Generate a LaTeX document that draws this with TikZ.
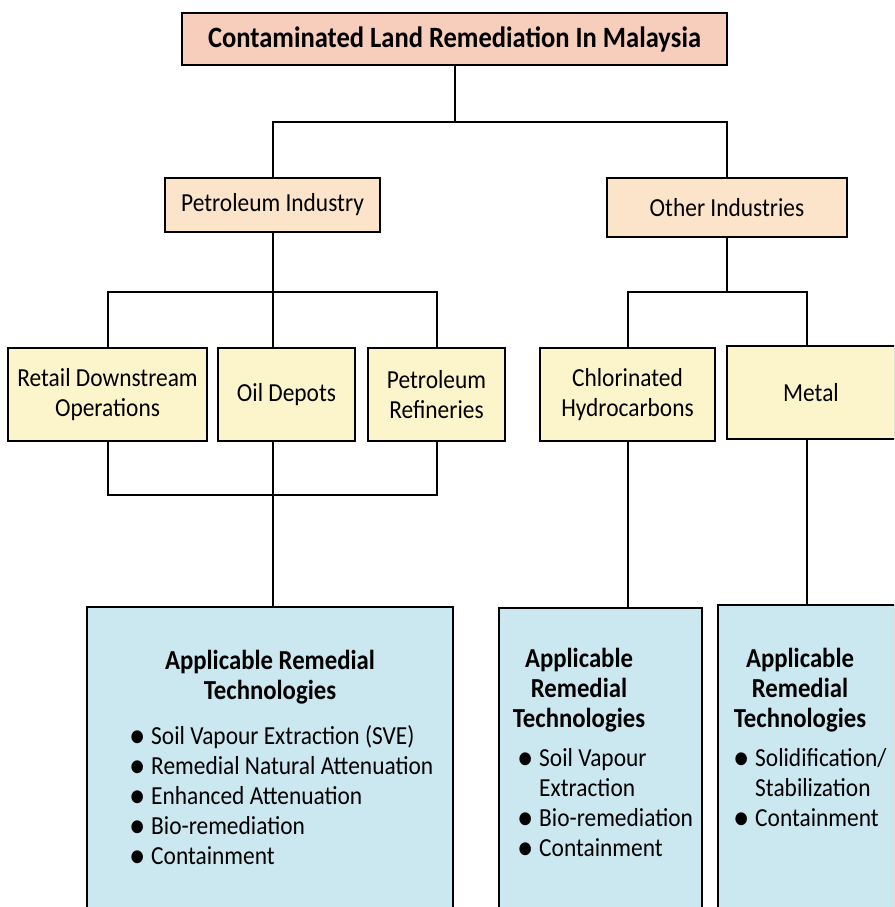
\documentclass[tikz,border=0pt]{standalone}
\usepackage{fontspec}
\setmainfont{Carlito}[FakeStretch=0.9]
\usepackage{xcolor}
\usetikzlibrary{positioning, calc}

\definecolor{topfill}{HTML}{F7CDBB}
\definecolor{indfill}{HTML}{FBE4C9}
\definecolor{srcfill}{HTML}{FCF5CC}
\definecolor{techfill}{HTML}{CBE7F0}

% bullet with a fixed gap before the item text
\newcommand{\blt}{\makebox[22pt][l]{\raisebox{-3pt}[0pt][0pt]{\scalebox{1.4}{\textbullet}}}}

\tikzset{
    box/.style={draw, line width=2.4pt, inner sep=0pt, align=center,
        font=\fontsize{26}{30}\selectfont},
    topbox/.style={box, fill=topfill, font=\fontsize{29.5}{34}\selectfont\bfseries},
    indbox/.style={box, fill=indfill},
    srcbox/.style={box, fill=srcfill},
    techbox/.style={box, fill=techfill},
    techtitle/.style={inner sep=0pt, align=center, anchor=north,
        font=\fontsize{27.5}{30}\selectfont\bfseries},
    techlist/.style={inner sep=0pt, align=left, anchor=north west,
        font=\fontsize{26}{30}\selectfont},
    link/.style={line width=2pt}
}

\begin{document}
\begin{tikzpicture}[x=1pt, y=-1pt]
    \useasboundingbox (0,0) rectangle (894,907);
    \clip (0,0) rectangle (894,907);

    % 1. Top box
    \node[topbox, minimum width=545pt, minimum height=52pt] (top) at (454.5, 39) {Contaminated Land Remediation In Malaysia};

    % 2. Industry boxes
    \node[indbox, minimum width=215pt, minimum height=54pt] (petro) at (272.5, 205) {Petroleum Industry};
    \node[indbox, minimum width=240pt, minimum height=59pt] (other) at (727, 207.5) {Other Industries};

    % 3. Source boxes
    \def\srcY{394.5}
    \node[srcbox, minimum width=199pt, minimum height=93pt] (retail) at (107.5, \srcY) {Retail Downstream\\Operations};
    \node[srcbox, minimum width=137pt, minimum height=93pt] (depot) at (286.5, \srcY) {Oil Depots};
    \node[srcbox, minimum width=137pt, minimum height=93pt] (refin) at (436.5, \srcY) {Petroleum\\Refineries};
    \node[srcbox, minimum width=175pt, minimum height=93pt] (chlor) at (627.5, \srcY) {Chlorinated\\Hydrocarbons};
    \node[srcbox, minimum width=168pt, minimum height=93pt] (metal) at (811, 392.5) {Metal};

    % 4. Technology boxes (cut off at the bottom)
    \node[techbox, minimum width=366pt, minimum height=308pt] (tech1) at (270, 761) {};
    \node[techbox, minimum width=203pt, minimum height=307pt] (tech2) at (600.5, 761.5) {};
    \node[techbox, minimum width=177pt, minimum height=310pt] (tech3) at (806.5, 760) {};

    % Box texts
    \node[techtitle] (tech1h) at (270, 650) {Applicable Remedial\\Technologies};
    \node[techlist] (tech1l) at (129, 725) {\blt Soil Vapour Extraction (SVE)\\
        \blt Remedial Natural Attenuation\\
        \blt Enhanced Attenuation\\
        \blt Bio-remediation\\
        \blt Containment};
    \node[techtitle] (tech2h) at (579, 648) {Applicable\\Remedial\\Technologies};
    \node[techlist] (tech2l) at (517, 748) {\blt Soil Vapour\\
        \phantom{\blt}Extraction\\
        \blt Bio-remediation\\
        \blt Containment};
    \node[techtitle] (tech3h) at (800, 648) {Applicable\\Remedial\\Technologies};
    \node[techlist] (tech3l) at (733, 748) {\blt Solidification/\\
        \phantom{\blt}Stabilization\\
        \blt Containment};

    % 5. Connectors
    \coordinate (busA) at (top.south |- 0,122);
    \draw[link] (top.south) -- (busA);
    \draw[link] (petro.north) |- (busA) -| (other.north);

    \coordinate (busB) at (petro.south |- 0,292);
    \draw[link] (petro.south) -- (petro.south |- depot.north);
    \draw[link] (retail.north) |- (busB) -| (refin.north);

    \coordinate (busC) at (petro.south |- 0,495);
    \draw[link] (retail.south) |- (busC) -| (refin.south);
    \draw[link] (petro.south |- depot.south) -- (petro.south |- tech1.north);

    \coordinate (busD) at (other.south |- 0,292);
    \draw[link] (other.south) -- (busD);
    \draw[link] (chlor.north) |- (busD) -| (tech3.north |- metal.north);
    \draw[link] (chlor.south) -- (chlor.south |- tech2.north);
    \draw[link] (tech3.north |- metal.south) -- (tech3.north);

\end{tikzpicture}
\end{document}
